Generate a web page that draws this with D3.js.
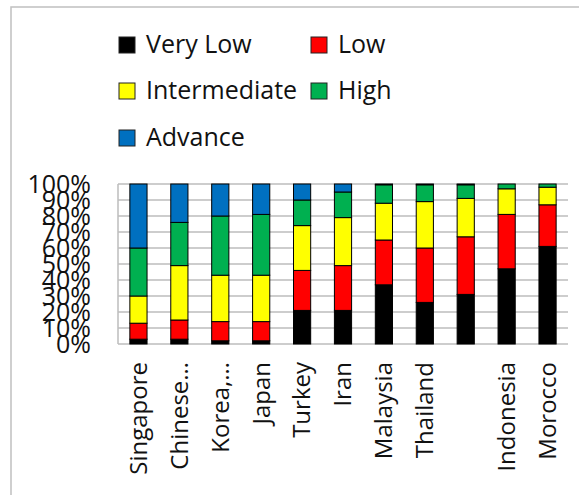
<!DOCTYPE html>
<html>
<head>
<meta charset="utf-8">
<script src="https://cdn.jsdelivr.net/npm/d3@7"></script>
<style>
  body { margin: 0; background: #fff; }
  text { font-family: "Open Sans", sans-serif; fill: #111; }
</style>
</head>
<body>
<div id="chart"></div>
<script>
// chart data (percent of each country)
var countries = ["Singapore", "Chinese\u2026", "Korea,\u2026", "Japan", "Turkey", "Iran",
                 "Malaysia", "Thailand", "", "Indonesia", "Morocco"];
var levels = ["Very Low", "Low", "Intermediate", "High", "Advance"];
var colors = ["#000000", "#ff0000", "#ffff00", "#00b050", "#0070c0"];

var veryLow      = [3, 3, 2, 2, 21, 21, 37, 26, 31, 47, 61];
var low          = [10, 12, 12, 12, 25, 28, 28, 34, 36, 34, 26];
var intermediate = [17, 34, 29, 29, 28, 30, 23, 29, 24, 16, 11];
var high         = [30, 27, 37, 38, 16, 16, 11.5, 10.5, 8.5, 3, 2];
var advance      = [40, 24, 20, 19, 10, 5, 0.5, 0.5, 0.5, 0, 0];

var yTicks = [0, 10, 20, 30, 40, 50, 60, 70, 80, 90, 100];

// build rows for d3.stack
var series = [veryLow, low, intermediate, high, advance];
var rows = countries.map(function(c, i) {
  var r = { country: c, idx: i };
  levels.forEach(function(l, j) { r[l] = series[j][i]; });
  return r;
});

var svg = d3.select('#chart')
            .append('svg')
            .attr('width', 579)
            .attr('height', 495);

// outer frame (only top and left edges visible)
svg.append('rect')
   .attr('x', 11)
   .attr('y', 7)
   .attr('width', 600)
   .attr('height', 520)
   .attr('fill', 'none')
   .attr('stroke', '#c0c0c0')
   .attr('stroke-width', 1.5);

var plotLeft = 118, plotRight = 568, plotTop = 184, plotBottom = 344;

var x = d3.scaleBand()
          .domain(d3.range(countries.length))
          .range([plotLeft, plotRight])
          .paddingInner(0.58)
          .paddingOuter(0.29);

var y = d3.scaleLinear()
          .domain([0, 100])
          .range([plotBottom, plotTop]);

// gridlines
svg.append('g')
   .selectAll('line')
   .data(yTicks)
   .enter().append('line')
   .attr('x1', plotLeft)
   .attr('x2', plotRight)
   .attr('y1', function(d) { return y(d); })
   .attr('y2', function(d) { return y(d); })
   .attr('stroke', '#bdbdbd')
   .attr('stroke-width', 1.5);

svg.append('line')
   .attr('x1', plotLeft).attr('x2', plotLeft)
   .attr('y1', plotTop).attr('y2', plotBottom)
   .attr('stroke', '#bdbdbd')
   .attr('stroke-width', 1.5);

// y axis labels
var yAxis = d3.axisLeft(y)
              .tickValues(yTicks)
              .tickSize(0)
              .tickPadding(27)
              .tickFormat(function(d) { return d + '%'; });

var gy = svg.append('g')
            .attr('transform', 'translate(' + plotLeft + ',0)')
            .call(yAxis);
gy.select('.domain').remove();
gy.selectAll('text')
  .style('font-size', '25px')
  .style('font-family', '"Open Sans", sans-serif')
  .attr('fill', '#111');

// stacked bars
var stack = d3.stack().keys(levels);
var stacked = stack(rows);

svg.append('g')
   .selectAll('g')
   .data(stacked)
   .enter().append('g')
   .attr('fill', function(d, i) { return colors[i]; })
   .selectAll('rect')
   .data(function(d) { return d; })
   .enter().append('rect')
   .attr('x', function(d) { return x(d.data.idx); })
   .attr('width', x.bandwidth())
   .attr('y', function(d) { return y(d[1]); })
   .attr('height', function(d) { return y(d[0]) - y(d[1]); })
   .attr('stroke', '#000')
   .attr('stroke-width', 1);

// x axis labels, rotated
var xAxis = d3.axisBottom(x)
              .tickSize(0)
              .tickFormat(function(i) { return countries[i]; });

var gx = svg.append('g')
            .attr('transform', 'translate(0,' + plotBottom + ')')
            .call(xAxis);
gx.select('.domain').remove();
gx.selectAll('text')
  .style('font-size', '24px')
  .style('font-family', '"Open Sans", sans-serif')
  .attr('fill', '#111')
  .attr('text-anchor', 'end')
  .attr('dy', '0.35em')
  .attr('transform', 'translate(0,18) rotate(-90)')
  .attr('x', 0)
  .attr('y', 0);

// legend
var legendPos = [[119, 37], [311, 37], [119, 83], [311, 83], [119, 130]];
var legend = svg.append('g')
                .selectAll('g')
                .data(levels)
                .enter().append('g')
                .attr('transform', function(d, i) {
                  return 'translate(' + legendPos[i][0] + ',' + legendPos[i][1] + ')';
                });

legend.append('rect')
      .attr('width', 16)
      .attr('height', 16)
      .attr('fill', function(d, i) { return colors[i]; })
      .attr('stroke', '#222')
      .attr('stroke-width', 1);

legend.append('text')
      .attr('x', 27)
      .attr('y', 16)
      .style('font-size', '25px')
      .text(function(d) { return d; });
</script>
</body>
</html>
